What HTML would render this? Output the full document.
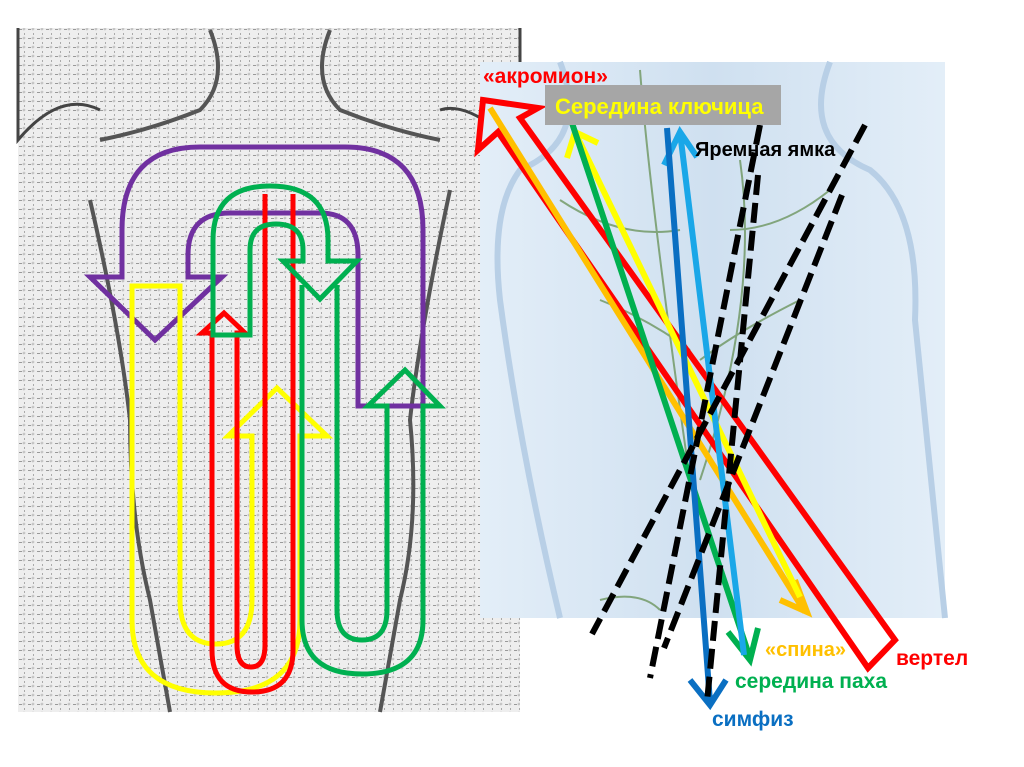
<!DOCTYPE html>
<html><head><meta charset="utf-8"><style>
html,body{margin:0;padding:0;background:#fff;}
svg{display:block;}
text{font-family:"Liberation Sans","DejaVu Sans",sans-serif;font-weight:bold;}
</style></head><body>
<svg width="1024" height="767" viewBox="0 0 1024 767" xmlns="http://www.w3.org/2000/svg">
<defs>
<pattern id="tex" width="9" height="9" patternUnits="userSpaceOnUse">
<rect width="9" height="9" fill="#eeeeee"/>
<rect x="1" y="2" width="3" height="1" fill="#999"/>
<rect x="6" y="6" width="1" height="2" fill="#aaa"/>
<circle cx="6" cy="2" r="1" fill="none" stroke="#aaa" stroke-width="0.6"/>
</pattern>
<linearGradient id="bg2" x1="0" y1="0" x2="1" y2="0">
<stop offset="0" stop-color="#e3eef8"/><stop offset="0.5" stop-color="#cfe0f0"/><stop offset="1" stop-color="#e3eef8"/>
</linearGradient>
</defs>
<rect x="18" y="28" width="502" height="684" fill="url(#tex)"/>
<path d="M18,28 L18,140 Q60,90 100,110 M520,28 L520,150 Q470,100 440,110" stroke="#444" stroke-width="3" fill="none"/>
<path d="M90,200 Q120,330 130,420 Q130,520 150,600 L170,712 M450,190 Q420,330 410,420 Q420,520 400,600 L380,712" stroke="#555" stroke-width="4" fill="none"/>
<path d="M210,30 Q230,80 200,110 Q150,130 100,140 M330,30 Q310,80 340,110 Q390,130 440,140" stroke="#555" stroke-width="4" fill="none"/>
<rect x="480" y="62" width="465" height="556" fill="url(#bg2)"/>
<path d="M560,62 Q590,140 520,170 Q490,210 500,300 Q520,450 560,618 M830,62 Q800,140 870,170 Q920,210 915,320 L945,618" stroke="#b8cfe6" stroke-width="6" fill="none"/>
<g stroke="#5e8a4a" stroke-width="2" fill="none" opacity="0.7">
<path d="M640,70 Q650,200 690,480 M740,160 Q760,300 700,480 M560,200 Q620,240 680,230 M830,190 Q780,230 730,230 M600,300 Q650,320 690,350 M800,300 Q740,330 700,360 M600,600 Q640,590 660,610"/>
</g>
<path d="M122,277 L122,230 Q122,147 200,147 L345,147 Q423,147 423,230 L423,406 L358,406 L358,255 Q358,213 320,213 L230,213 Q188,213 188,255 L188,277 L222,277 L155,340 L90,277 Z" fill="none" stroke="#7030a0" stroke-width="5"/>
<path d="M132,286 L180,286 L180,600 Q180,644 216,644 Q252,644 252,600 L252,436 L228,436 L277,388 L327,436 L300,436 L300,620 Q300,693 216,693 Q132,693 132,620 Z" fill="none" stroke="#ffff00" stroke-width="5"/>
<path d="M293,194 L293,650 Q293,692 252,692 Q212,692 212,650 L212,333 L202,333 L224,313 L245,333 L237,333 L237,645 Q237,667 251,667 Q265,667 265,645 L265,194" fill="none" stroke="#ff0000" stroke-width="5"/>
<path d="M213,335 L213,240 Q213,186 270,186 Q328,186 328,240 L328,261 L357,261 L320,299 L283,261 L303,261 L303,250 Q303,224 276,224 Q250,224 250,250 L250,335 Z" fill="none" stroke="#00b050" stroke-width="5"/>
<path d="M302,285 L302,620 Q302,674 362,674 Q423,674 423,620 L423,406 L440,406 L405,370 L368,406 L387,406 L387,610 Q387,640 362,640 Q337,640 337,610 L337,285" fill="none" stroke="#00b050" stroke-width="5"/>
<polygon points="483,100 538,108 520,118 895,640 868,668 498,132 478,150" fill="none" stroke="#ff0000" stroke-width="6" stroke-linejoin="miter"/>
<g stroke-width="6" fill="none" stroke-linecap="butt">
<path d="M490,108 L805,612 M795,580 L807,612 L780,600" stroke="#ffc000"/>
<path d="M800,597 L575,132 M567,158 L575,132 L598,143" stroke="#ffff00"/>
<path d="M570,117 L750,658 M728,632 L750,660 L758,628" stroke="#00b050"/>
<path d="M744,655 L680,132 M664,165 L680,132 L697,157" stroke="#1aa7e8"/>
<path d="M667,128 L710,702 M690,680 L710,705 L726,680" stroke="#0a6fc2"/>
</g>
<g stroke="#000" stroke-width="6" stroke-dasharray="20 8" fill="none">
<path d="M760,125 L650,678"/>
<path d="M865,125 L592,634"/>
<path d="M842,195 L664,648"/>
<path d="M758,175 L707,702"/>
</g>
<text x="483" y="83" font-size="21" fill="#ff0000">«акромион»</text>
<rect x="545" y="85" width="236" height="40" fill="#a6a6a6"/>
<text x="555" y="114" font-size="22" fill="#ffff00">Середина ключица</text>
<text x="695" y="156" font-size="20" fill="#000">Яремная ямка</text>
<text x="765" y="656" font-size="20" fill="#ffc000">«спина»</text>
<text x="896" y="665" font-size="21" fill="#ff0000">вертел</text>
<text x="735" y="688" font-size="21" fill="#00b050">середина паха</text>
<text x="712" y="726" font-size="21" fill="#0a6fc2">симфиз</text>
</svg>
</body></html>
